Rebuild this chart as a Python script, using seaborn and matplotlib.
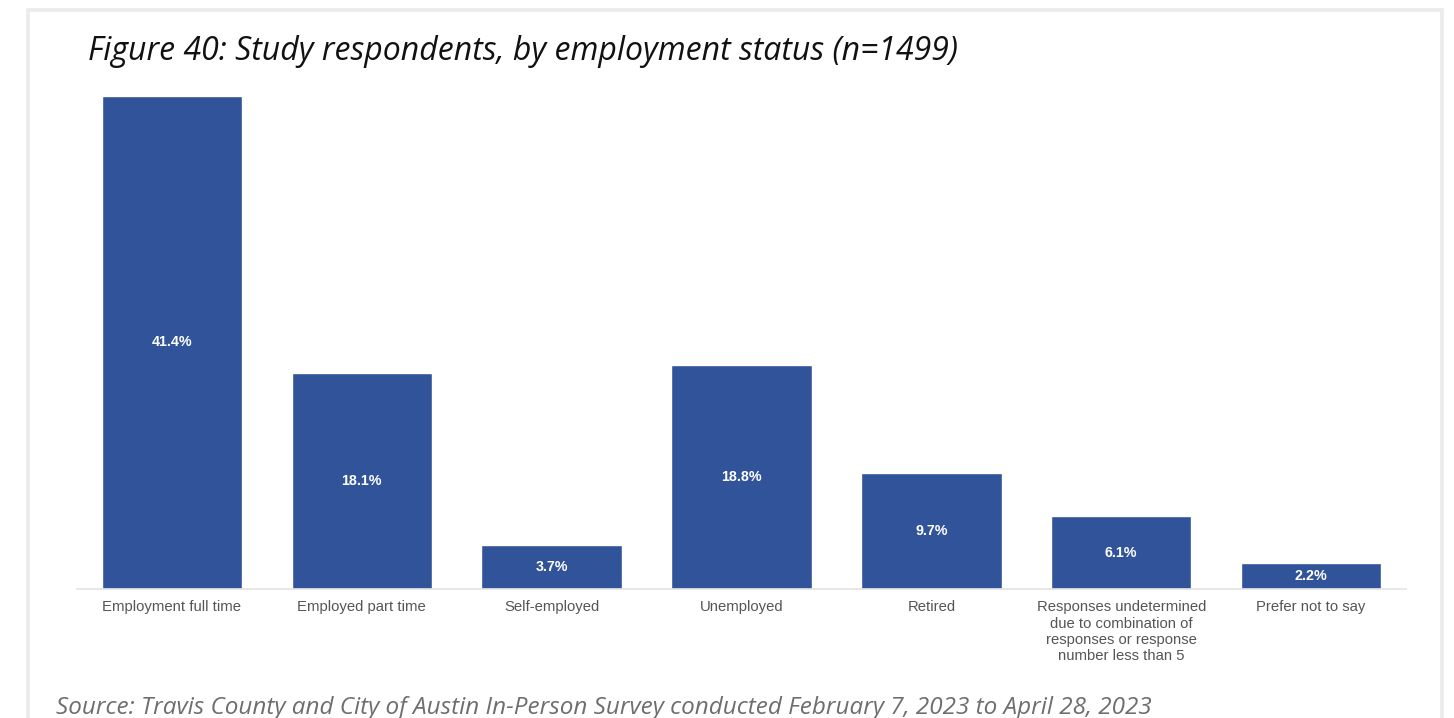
import matplotlib
matplotlib.use("Agg")
import matplotlib.pyplot as plt
from matplotlib.patches import Rectangle
import seaborn as sns
import pandas as pd

categories = [
    "Employment full time",
    "Employed part time",
    "Self-employed",
    "Unemployed",
    "Retired",
    "Responses undetermined\ndue to combination of\nresponses or response\nnumber less than 5",
    "Prefer not to say",
]
shares = [41.4, 18.1, 3.7, 18.8, 9.7, 6.1, 2.2]
value_labels = ["41.4%", "18.1%", "3.7%", "18.8%", "9.7%", "6.1%", "2.2%"]

title_text = "Figure 40: Study respondents, by employment status (n=1499)"
source_text = "Source: Travis County and City of Austin In-Person Survey conducted February 7, 2023 to April 28, 2023"

BAR_COLOR = "#31539a"
W, H = 1454, 718

sns.set_theme(style="white")
plt.rcParams["font.family"] = ["Liberation Sans", "DejaVu Sans"]

fig = plt.figure(figsize=(W / 100, H / 100), dpi=100)
fig.patch.set_facecolor("white")

# outer light frame (open at the bottom edge)
frame = Rectangle((27.5 / W, -0.05), (1441.5 - 27.5) / W, (H - 9.5) / H + 0.05,
                  transform=fig.transFigure, fill=False,
                  edgecolor="#ebebeb", linewidth=2.6)
fig.add_artist(frame)

ax_left, ax_right = 77 / W, 1406 / W
ax_bottom, ax_top = (H - 589) / H, (H - 96) / H
ax = fig.add_axes([ax_left, ax_bottom, ax_right - ax_left, ax_top - ax_bottom])

df = pd.DataFrame({"category": categories, "share": shares})
sns.barplot(data=df, x="category", y="share", color=BAR_COLOR, saturation=1,
            width=0.74, ax=ax)

ax.set_xlim(-0.5, len(categories) - 0.5)
ax.set_ylim(0, max(shares))
ax.set_xlabel("")
ax.set_ylabel("")
ax.set_yticks([])
for side in ["top", "right", "left"]:
    ax.spines[side].set_visible(False)
ax.spines["bottom"].set_color("#e3e3e3")
ax.spines["bottom"].set_linewidth(1.2)
ax.tick_params(axis="x", length=0, pad=8, labelsize=10.7, labelcolor="#555555")
for t in ax.get_xticklabels():
    t.set_linespacing(1.22)
ax.set_facecolor("none")

for i, (val, lab) in enumerate(zip(shares, value_labels)):
    ax.text(i, val / 2, lab, ha="center", va="center", color="white",
            fontsize=10.3, fontweight="bold")

fig.text(88 / W, 1 - 52 / H, title_text, ha="left", va="center",
         fontsize=23, style="italic", color="#111111",
         family=["Open Sans", "DejaVu Sans"])
fig.text(56 / W, 1 - 708 / H, source_text, ha="left", va="center",
         fontsize=17.5, style="italic", color="#6e6e6e",
         family=["Open Sans", "DejaVu Sans"])

fig.savefig("out.png", dpi=100)
